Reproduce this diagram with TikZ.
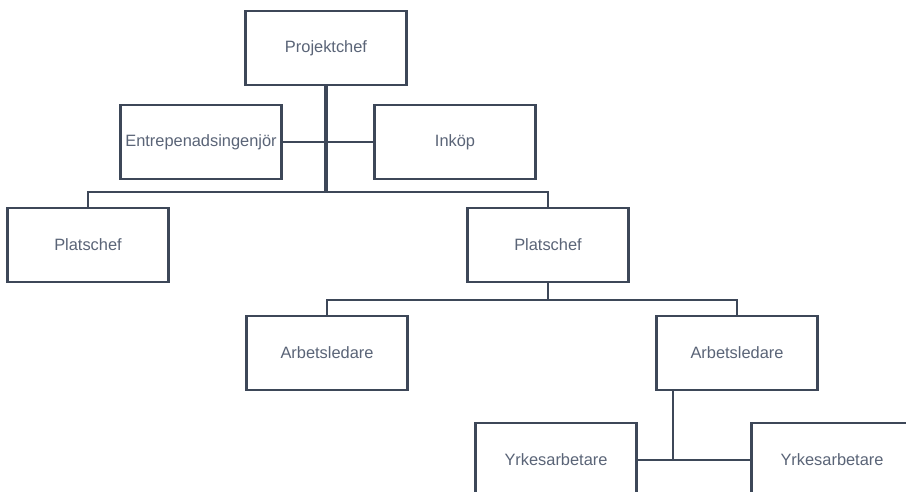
\documentclass[tikz,border=0pt]{standalone}
\usepackage{fontspec}
\setmainfont{Liberation Sans}
\definecolor{linegray}{HTML}{3D4758}
\definecolor{textgray}{HTML}{5A6477}

\begin{document}
\begin{tikzpicture}[x=1pt, y=-1pt, line cap=rect, line join=miter,
	rolebox/.style={draw=linegray, line width=2.2pt, fill=white,
		minimum width=161pt, minimum height=74pt, inner sep=0pt,
		text=textgray, font=\fontsize{16.4}{19}\selectfont},
	link/.style={draw=linegray, line width=2.2pt},
	trunk/.style={draw=linegray, line width=3.2pt, line cap=butt}]
	
	\useasboundingbox (0,0) rectangle (906,492);
	\clip (0,0) rectangle (906,492);
	
	% ---------- top level ----------
	\node[rolebox] (proj) at (326,48) {Projektchef};
	\node[rolebox] (ent) at (201,142) {Entrepenadsingenjör};
	\node[rolebox] (ink) at (455,142) {Inköp};
	
	% ---------- site managers ----------
	\node[rolebox] (platsL) at (88,245) {Platschef};
	\node[rolebox] (platsR) at (548,245) {Platschef};
	
	% ---------- foremen ----------
	\node[rolebox] (arbL) at (327,353) {Arbetsledare};
	\node[rolebox] (arbR) at (737,353) {Arbetsledare};
	
	% ---------- workers (cut by the page edge) ----------
	\node[rolebox] (yrkL) at (556,460) {Yrkesarbetare};
	\node[rolebox] (yrkR) at (832,460) {Yrkesarbetare};
	
	% junction points
	\coordinate (bar1) at (326,192);
	\coordinate (bar2) at (548,300);
	\coordinate (yj) at (673,460);
	
	% connectors
	\draw[link] (ent.east) -- (ink.west);
	\draw[trunk] (proj.south) -- (bar1);
	\draw[link] (platsL.north) |- (bar1) -| (platsR.north);
	
	\draw[link] (platsR.south) -- (bar2);
	\draw[link] (arbL.north) |- (bar2) -| (arbR.north);
	
	\draw[link] (arbR.south -| yj) -- (yj);
	\draw[link] (yrkL.east) -- (yrkR.west);
	
\end{tikzpicture}
\end{document}
